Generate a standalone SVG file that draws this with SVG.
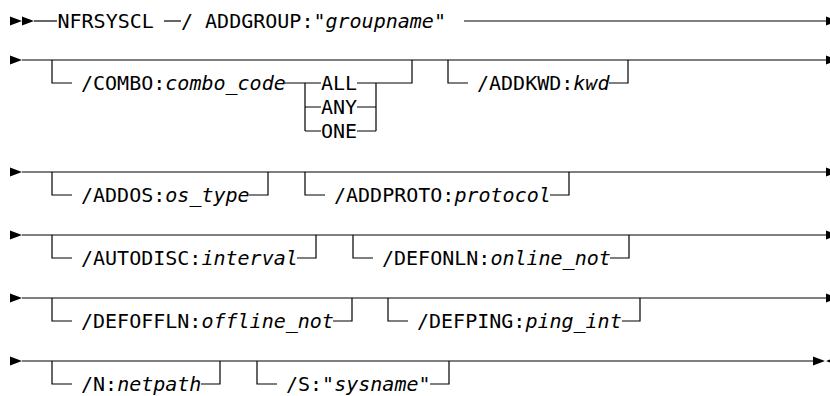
<svg xmlns="http://www.w3.org/2000/svg" xmlns:xlink="http://www.w3.org/1999/xlink" width="830" height="396" viewBox="0 0 830 396">
<style>
.ln{stroke:#000;stroke-width:1.2;fill:none}
.t{font-family:"DejaVu Sans Mono","Liberation Mono",monospace;font-size:20px;fill:#000}
.i{font-style:italic}
.ah{fill:#000}
</style>
<defs>
<path id="ar" class="ah" d="M0,-4.5 L12,0 L0,4.5 Z"/>
<path id="al" class="ah" d="M12,-4.5 L0,0 L12,4.5 Z"/>
</defs>
<rect width="830" height="396" fill="#fff"/>
<g id="connectors">
<!-- row 1 -->
<use xlink:href="#ar" x="10" y="21"/>
<use xlink:href="#ar" x="22" y="21"/>
<path class="ln" d="M34,21 H57"/>
<path class="ln" d="M164,21 H181"/>
<path class="ln" d="M464,21 H826"/>
<use xlink:href="#ar" x="826" y="21"/>
<!-- row 2 -->
<use xlink:href="#ar" x="10" y="60"/>
<path class="ln" d="M22,60 H826"/>
<use xlink:href="#ar" x="826" y="60"/>
<path class="ln" d="M52,60 V83 H72"/>
<path class="ln" d="M285,83 H321 M357,83 H412 V60"/>
<path class="ln" d="M305,83 V131 M305,107 H321 M305,131 H321"/>
<path class="ln" d="M376,83 V131 M357,107 H376 M357,131 H376"/>
<path class="ln" d="M448,60 V83 H468 M609,83 H628 V60"/>
<!-- row 3 -->
<use xlink:href="#ar" x="10" y="172"/>
<path class="ln" d="M22,172 H826"/>
<use xlink:href="#ar" x="826" y="172"/>
<path class="ln" d="M52,172 V195 H72 M249,195 H268 V172"/>
<path class="ln" d="M305,172 V195 H325 M550,195 H569 V172"/>
<!-- row 4 -->
<use xlink:href="#ar" x="10" y="235"/>
<path class="ln" d="M22,235 H826"/>
<use xlink:href="#ar" x="826" y="235"/>
<path class="ln" d="M52,235 V258 H72 M297,258 H316 V235"/>
<path class="ln" d="M353,235 V258 H373 M610,258 H629 V235"/>
<!-- row 5 -->
<use xlink:href="#ar" x="10" y="298"/>
<path class="ln" d="M22,298 H826"/>
<use xlink:href="#ar" x="826" y="298"/>
<path class="ln" d="M52,298 V321 H72 M333,321 H352 V298"/>
<path class="ln" d="M388,298 V321 H408 M622,321 H640 V298"/>
<!-- row 6 -->
<use xlink:href="#ar" x="10" y="361"/>
<path class="ln" d="M22,361 H813"/>
<use xlink:href="#ar" x="813" y="361"/>
<use xlink:href="#al" x="826" y="361"/>
<path class="ln" d="M52,361 V384 H72 M201,384 H220 V361"/>
<path class="ln" d="M257,361 V384 H277 M430,384 H449 V361"/>
</g>
<g id="n-nfrsyscl"><text class="t" x="57.5" y="28">NFRSYSCL</text></g>
<g id="n-addgroup"><text class="t" x="181" y="28">/ ADDGROUP:"<tspan class="i">groupname</tspan>"</text></g>
<g id="n-combo"><text class="t" x="81" y="90">/COMBO:<tspan class="i">combo_code</tspan></text></g>
<g id="n-all"><text class="t" x="321" y="90">ALL</text></g>
<g id="n-any"><text class="t" x="321" y="114">ANY</text></g>
<g id="n-one"><text class="t" x="321" y="138">ONE</text></g>
<g id="n-addkwd"><text class="t" x="477" y="90">/ADDKWD:<tspan class="i">kwd</tspan></text></g>
<g id="n-addos"><text class="t" x="81" y="202">/ADDOS:<tspan class="i">os_type</tspan></text></g>
<g id="n-addproto"><text class="t" x="334" y="202">/ADDPROTO:<tspan class="i">protocol</tspan></text></g>
<g id="n-autodisc"><text class="t" x="81" y="265">/AUTODISC:<tspan class="i">interval</tspan></text></g>
<g id="n-defonln"><text class="t" x="382" y="265">/DEFONLN:<tspan class="i">online_not</tspan></text></g>
<g id="n-defofffln"><text class="t" x="81" y="328">/DEFOFFLN:<tspan class="i">offline_not</tspan></text></g>
<g id="n-defping"><text class="t" x="417" y="328">/DEFPING:<tspan class="i">ping_int</tspan></text></g>
<g id="n-n"><text class="t" x="81" y="391">/N:<tspan class="i">netpath</tspan></text></g>
<g id="n-s"><text class="t" x="286" y="391">/S:"<tspan class="i">sysname</tspan>"</text></g>
</svg>
